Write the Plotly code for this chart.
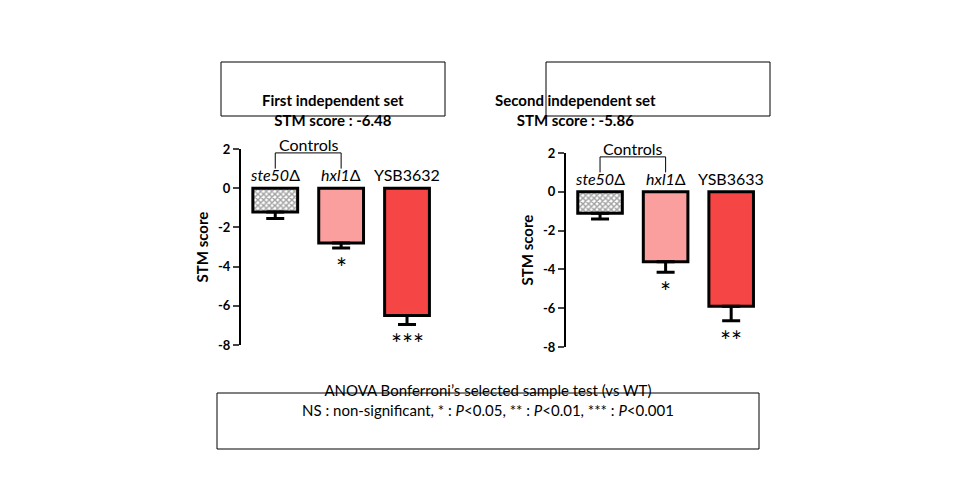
import plotly.graph_objects as go

strains_a = ["ste50", "hxl1", "YSB3632"]
labels_a = ["<i>ste50</i>Δ", "<i>hxl1</i>Δ", "YSB3632"]
scores_a = [-1.22, -2.8, -6.5]
sem_a = [0.33, 0.25, 0.45]
stars_a = ["", "*", "***"]

strains_b = ["ste50", "hxl1", "YSB3633"]
labels_b = ["<i>ste50</i>Δ", "<i>hxl1</i>Δ", "YSB3633"]
scores_b = [-1.1, -3.6, -5.9]
sem_b = [0.3, 0.55, 0.75]
stars_b = ["", "*", "**"]

colors = ["white", "#fa9e9e", "#f54545"]
titles = ["<b>First independent set<br>STM score : -6.48</b>",
          "<b>Second independent set<br>STM score : -5.86</b>"]
yticks = [2, 0, -2, -4, -6, -8]

FONT = "Lato, Arial"
fig = go.Figure()

panels = [
    (labels_a, scores_a, sem_a, stars_a, [0.2427, 0.4479], [0.326, 0.718], "x", "y"),
    (labels_b, scores_b, sem_b, stars_b, [0.5812, 0.7854], [0.322, 0.710], "x2", "y2"),
]

for i, (labels, scores, sem, stars, xd, yd, xa, ya) in enumerate(panels):
    fig.add_trace(go.Bar(
        x=[0, 1, 2], y=scores, xaxis=xa, yaxis=ya, width=0.68,
        marker=dict(color=colors, line=dict(color="black", width=3),
                    pattern=dict(shape=["x", "", ""], fgcolor="black", size=4, solidity=0.6)),
        error_y=dict(type="data", symmetric=False, array=[0, 0, 0], arrayminus=sem,
                     color="black", thickness=3, width=9),
        showlegend=False,
    ))
    sfx = "" if i == 0 else "2"
    fig.update_layout(**{
        "xaxis" + sfx: dict(domain=xd, range=[-0.52, 2.47], visible=False),
        "yaxis" + sfx: dict(domain=yd, range=[-8, 2], tickvals=yticks,
                            ticktext=["<b>%d</b>" % v for v in yticks], ticks="outside",
                            ticklen=6, tickwidth=2, showline=True, linewidth=2, linecolor="black",
                            showgrid=False, zeroline=False, anchor=xa, automargin=False,
                            tickfont=dict(family=FONT, size=13, color="black"),
                            title=dict(text="<b>STM score</b>", standoff=6,
                                       font=dict(family=FONT, size=15, color="black"))),
    })
    for k in range(3):
        fig.add_annotation(x=k, y=0, xref=xa, yref=ya, text=labels[k], showarrow=False,
                           yanchor="bottom", yshift=2, font=dict(family=FONT, size=16, color="black"))
        if stars[k]:
            fig.add_annotation(x=k, y=scores[k] - sem[k], xref=xa, yref=ya, text=stars[k],
                               showarrow=False, yanchor="top", yshift=-2,
                               font=dict(family=FONT, size=26, color="black"))
    fig.add_shape(type="path", xref=xa, yref=ya, path="M 0,1.0 L 0,1.8 L 1,1.8 L 1,1.0",
                  line=dict(color="black", width=1))
    fig.add_annotation(x=0.5, y=1.8, xref=xa, yref=ya, text="Controls", showarrow=False,
                       yanchor="bottom", yshift=-3, font=dict(family=FONT, size=16, color="black"))

for x0, x1, t in [(213, 437, titles[0]), (538, 762, titles[1])]:
    fig.add_shape(type="rect", xref="paper", yref="paper", x0=x0 / 960, x1=x1 / 960,
                  y0=1 - 108 / 500, y1=1 - 54 / 500, line=dict(color="black", width=1))
    fig.add_annotation(x=(x0 + x1) / 1920, y=1 - 81 / 500, xref="paper", yref="paper",
                       text=t, showarrow=False, font=dict(family=FONT, size=15, color="black"))

fig.add_shape(type="rect", xref="paper", yref="paper", x0=209 / 960, x1=751 / 960,
              y0=1 - 441 / 500, y1=1 - 385 / 500, line=dict(color="black", width=1))
fig.add_annotation(x=480 / 960, y=1 - 413 / 500, xref="paper", yref="paper", showarrow=False,
                   text="ANOVA Bonferroni’s selected sample test (vs WT)<br>"
                        "NS : non-significant, * : <i>P</i><0.05, ** : <i>P</i><0.01, *** : <i>P</i><0.001",
                   font=dict(family=FONT, size=15, color="black"))

fig.update_layout(width=960, height=500,
                  margin=dict(l=0, r=0, t=0, b=0, pad=0, autoexpand=False),
                  plot_bgcolor="white", paper_bgcolor="white")
fig.write_html("out.html")
